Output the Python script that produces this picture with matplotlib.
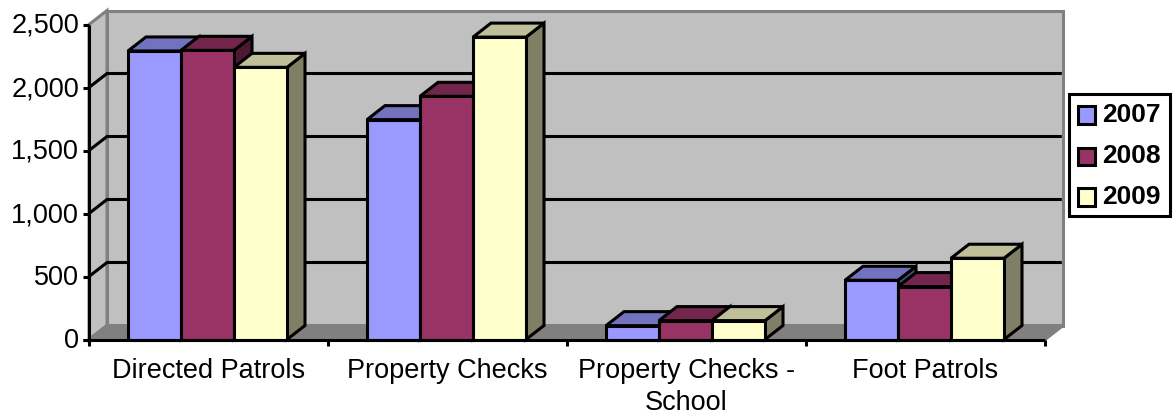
import numpy as np
import matplotlib
matplotlib.use("Agg")
import matplotlib.pyplot as plt
from matplotlib.patches import Polygon, Rectangle

# ==================================================
# DATA
# ==================================================
categories = ["Directed Patrols", "Property Checks", "Property Checks -\nSchool", "Foot Patrols"]
years = ["2007", "2008", "2009"]
values_2007 = [2290, 1745, 110, 470]
values_2008 = [2295, 1930, 150, 420]
values_2009 = [2160, 2400, 150, 645]
y_ticks = [0, 500, 1000, 1500, 2000, 2500]

# front, top, side colours
colors_2007 = ("#9999FF", "#7272BF", "#4C4C7F")
colors_2008 = ("#993366", "#72264C", "#4C1933")
colors_2009 = ("#FFFFCC", "#BFBF99", "#7F7F66")

W, H = 1173, 418
plt.rcParams["font.family"] = ["Liberation Sans", "DejaVu Sans"]

fig = plt.figure(figsize=(W / 100, H / 100), dpi=100)
# axes covers the front plane of the fake 3D box
ax = fig.add_axes([89 / W, 1 - 339.5 / H, 956 / W, 315 / H])
ax.set_xlim(0, 4)
ax.set_ylim(0, 2500)
ax.axis("off")

# depth of the box in data units
dx = 18 / 239
dy = 14 / (315 / 2500)
bar_w = 53 / 239
lw = 2.2


def poly(pts, fc, ec="none", z=1, lw_=lw):
    ax.add_patch(Polygon(pts, closed=True, facecolor=fc, edgecolor=ec, linewidth=lw_,
                         zorder=z, clip_on=False, joinstyle="miter"))


# ==================================================
# WALLS
# ==================================================
poly([(dx, dy), (4 + dx, dy), (4 + dx, 2500 + dy), (dx, 2500 + dy)], "#C0C0C0", "#808080", 1)
poly([(0, 0), (dx, dy), (dx, 2500 + dy), (0, 2500)], "#C0C0C0", "#808080", 1)
poly([(0, 0), (4, 0), (4 + dx, dy), (dx, dy)], "#808080", "#808080", 1)

# gridlines on both walls
for t in y_ticks[1:-1]:
    ax.plot([0, dx, 4 + dx - 0.005], [t, t + dy, t + dy], color="black", lw=lw, zorder=2,
            clip_on=False, solid_joinstyle="miter", solid_capstyle="butt")

# ==================================================
# BARS
# ==================================================
series = [(values_2007, colors_2007), (values_2008, colors_2008), (values_2009, colors_2009)]
for c in range(len(categories)):
    for s, (vals, cols) in enumerate(series):
        x0 = c + 39 / 239 + s * bar_w
        x1 = x0 + bar_w
        v = vals[c]
        poly([(x1, 0), (x1 + dx, dy), (x1 + dx, v + dy), (x1, v)], cols[2], "black", 3 + c * 3 + s)
        poly([(x0, v), (x1, v), (x1 + dx, v + dy), (x0 + dx, v + dy)], cols[1], "black", 3 + c * 3 + s)
        poly([(x0, 0), (x1, 0), (x1, v), (x0, v)], cols[0], "black", 3 + c * 3 + s)

# ==================================================
# AXES LINES AND LABELS
# ==================================================
ax.plot([0, 0], [-48, 2500], color="black", lw=lw, zorder=30, clip_on=False, solid_capstyle="butt")
ax.plot([-0.025, 4], [0, 0], color="black", lw=lw, zorder=30, clip_on=False, solid_capstyle="butt")
for t in y_ticks:
    ax.plot([-0.025, 0], [t, t], color="black", lw=lw, zorder=30, clip_on=False, solid_capstyle="butt")
    ax.annotate(f"{t:,}", (0, t), xytext=(-10, -1.5), textcoords="offset pixels",
                ha="right", va="center", fontsize=19.5, annotation_clip=False)
for i in range(1, 5):
    ax.plot([i, i], [-48, 0], color="black", lw=lw, zorder=30, clip_on=False, solid_capstyle="butt")
for i, name in enumerate(categories):
    ax.annotate(name, (i + 0.5, 0), xytext=(0, -18), textcoords="offset pixels",
                ha="center", va="top", fontsize=19.5, linespacing=1.33, annotation_clip=False)

# ==================================================
# LEGEND
# ==================================================
fig.add_artist(Rectangle((1068.5 / W, 1 - 216 / H), 101 / W, 122 / H, transform=fig.transFigure,
                         facecolor="white", edgecolor="black", linewidth=lw))
for (name, cols, yp) in zip(years, (colors_2007, colors_2008, colors_2009), (115, 156, 197)):
    fig.add_artist(Rectangle((1077.5 / W, 1 - (yp + 8.5) / H), 17 / W, 17 / H, transform=fig.transFigure,
                             facecolor=cols[0], edgecolor="black", linewidth=lw))
    fig.text(1102 / W, 1 - yp / H, name, fontsize=19, fontweight="bold", va="center", ha="left")

fig.savefig("out.png", dpi=100)
